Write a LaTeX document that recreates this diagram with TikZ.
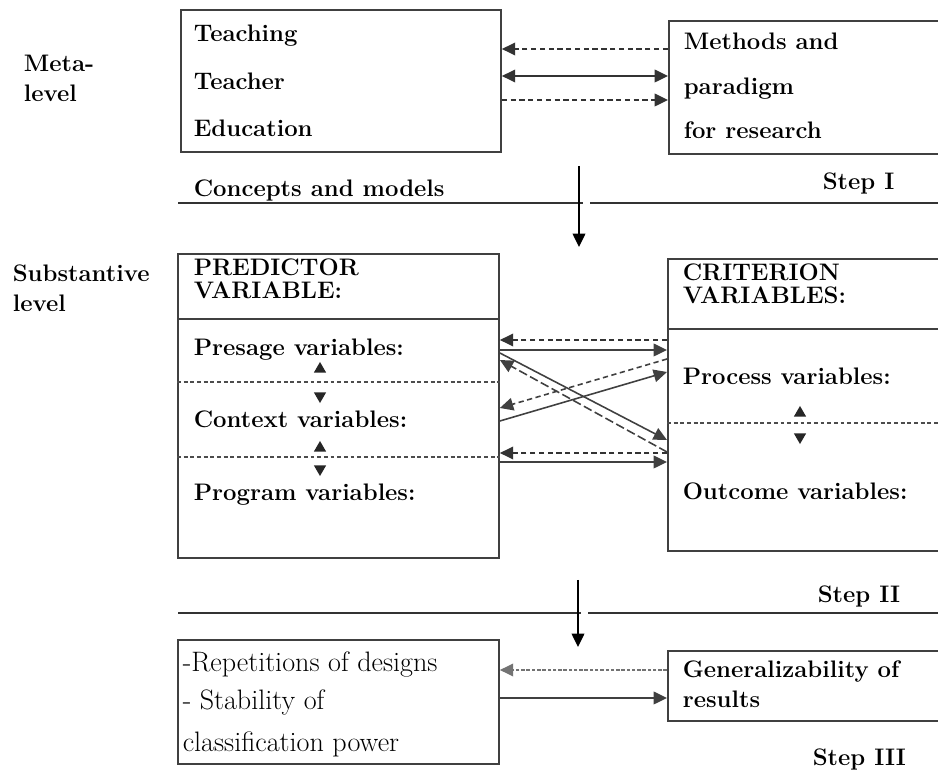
\documentclass[tikz,border=0pt]{standalone}
\usepackage{tikz}
\usetikzlibrary{arrows.meta, positioning, shapes.geometric}

\begin{document}
\begin{tikzpicture}[x=0.02cm, y=-0.02cm, >={Triangle[length=7.6pt,width=7.2pt]}, line width=0.9pt, font=\fontsize{13.6}{16}\selectfont\bfseries]
\tikzstyle{box}=[draw=black!75, line width=1.1pt, inner sep=0pt, anchor=north west]
\tikzstyle{txt}=[anchor=base west, inner sep=0pt, text=black]
\tikzstyle{plain}=[txt, font=\fontsize{16}{19}\selectfont\mdseries]
\tikzstyle{dsh}=[dash pattern=on 3pt off 2pt]
\tikzstyle{sep}=[draw=black!70, line width=0.6pt, dash pattern=on 2.2pt off 1.6pt]
\tikzstyle{tri}=[regular polygon, regular polygon sides=3, fill=black!85, inner sep=0pt, minimum size=8pt]
\tikzstyle{tridown}=[tri, shape border rotate=180]

\useasboundingbox (0,0) rectangle (938,780);
\clip (0,0) rectangle (938,780);

% meta-level
\node[txt] (meta) at (23,72) {Meta-};
\node[txt] (metalvl) at (23,102) {level};

\node[box, minimum width=6.4cm, minimum height=2.84cm] (teach) at (180,9) {};
\node[txt] (t1) at (193,42) {Teaching};
\node[txt] (t2) at (193,90) {Teacher};
\node[txt] (t3) at (193,137) {Education};

\node[box, minimum width=5.9cm, minimum height=2.66cm] (meth) at (668,20) {};
\node[txt] (m1) at (683,50) {Methods and};
\node[txt] (m2) at (683,95) {paradigm};
\node[txt] (m3) at (683,139) {for research};

\draw[->, dsh, draw=black!80] (meth.west |- 0,49) -- (teach.east |- 0,49);
\draw[<->, draw=black!80] (teach.east |- 0,76) -- (meth.west |- 0,76);
\draw[->, dsh, draw=black!80] (teach.east |- 0,100) -- (meth.west |- 0,100);

% step I
\node[txt] (concepts) at (193,197) {Concepts and models};
\node[txt] (step1) at (822,190) {Step I};
\draw[draw=black!80, line width=0.8pt] (178,203) -- (583,203) (590,203) -- (938,203);
\coordinate (s1a) at (579,166);
\coordinate (s1b) at (579,247);
\draw[->, draw=black] (s1a) -- (s1b);

% substantive level
\node[txt] (subst) at (12,282) {Substantive};
\node[txt] (substlvl) at (12,312) {level};

\node[box, minimum width=6.42cm, minimum height=6.08cm] (pred) at (177,253) {};
\draw[draw=black!75, line width=1pt] (pred.west |- 0,319) -- (pred.east |- 0,319);
\node[txt] (p0) at (193,276) {PREDICTOR};
\node[txt] (p00) at (193,299) {VARIABLE:};
\node[txt] (p1) at (193,356) {Presage variables:};
\node[txt] (p2) at (193,428) {Context variables:};
\node[txt] (p3) at (193,501) {Program variables:};
\draw[sep] (pred.west |- 0,382) -- (pred.east |- 0,382);
\draw[sep] (pred.west |- 0,457) -- (pred.east |- 0,457);
\node[tri] (pu1) at (320,369) {};
\node[tridown] (pd1) at (320,396) {};
\node[tri] (pu2) at (320,448) {};
\node[tridown] (pd2) at (320,469) {};

\node[box, minimum width=5.9cm, minimum height=5.84cm] (crit) at (667,258) {};
\draw[draw=black!75, line width=1pt] (crit.west |- 0,329) -- (crit.east |- 0,329);
\node[txt] (c0) at (682,281) {CRITERION};
\node[txt] (c00) at (682,304) {VARIABLES:};
\node[txt] (c1) at (682,385) {Process variables:};
\node[txt] (c2) at (682,500) {Outcome variables:};
\draw[sep] (crit.west |- 0,423) -- (crit.east |- 0,423);
\node[tri] (cu1) at (800,413) {};
\node[tridown] (cd1) at (800,437) {};

\draw[->, dsh, draw=black!80] (crit.west |- 0,340) -- (pred.east |- 0,340);
\draw[->, draw=black!75] (pred.east |- 0,350) -- (crit.west |- 0,350);
\draw[->, draw=black!75] (pred.east |- 0,353) -- (crit.west |- 0,440);
\draw[->, dash pattern=on 5pt off 2pt, draw=black!75] (crit.west |- 0,452) -- (pred.east |- 0,360);
\draw[->, dsh, draw=black!75] (crit.west |- 0,359) -- (pred.east |- 0,408);
\draw[->, draw=black!75] (pred.east |- 0,421) -- (crit.west |- 0,372);
\draw[->, dsh, draw=black!80] (crit.west |- 0,453) -- (pred.east |- 0,453);
\draw[->, draw=black!75] (pred.east |- 0,462) -- (crit.west |- 0,462);

% step II
\node[txt] (step2) at (817,603) {Step II};
\draw[draw=black!80, line width=0.8pt] (178,613) -- (581,613) (588,613) -- (938,613);
\coordinate (s2a) at (578,580);
\coordinate (s2b) at (578,647);
\draw[->, draw=black] (s2a) -- (s2b);

\node[box, minimum width=6.42cm, minimum height=2.48cm] (rep) at (177,639) {};
\node[plain] (r1) at (182,672) {-Repetitions of designs};
\node[plain] (r2) at (182,710) {- Stability of};
\node[plain] (r3) at (182,752) {classification power};

\node[box, minimum width=5.9cm, minimum height=1.4cm] (gen) at (667,650) {};
\node[txt] (g1) at (682,678) {Generalizability of};
\node[txt] (g2) at (682,708) {results};

\draw[->, draw=black!55, line width=0.8pt, dash pattern=on 2pt off 1pt] (gen.west |- 0,670) -- (rep.east |- 0,670);
\draw[->, draw=black!75] (rep.east |- 0,698) -- (gen.west |- 0,698);

\node[txt] (step3) at (812,766) {Step III};
\end{tikzpicture}
\end{document}
